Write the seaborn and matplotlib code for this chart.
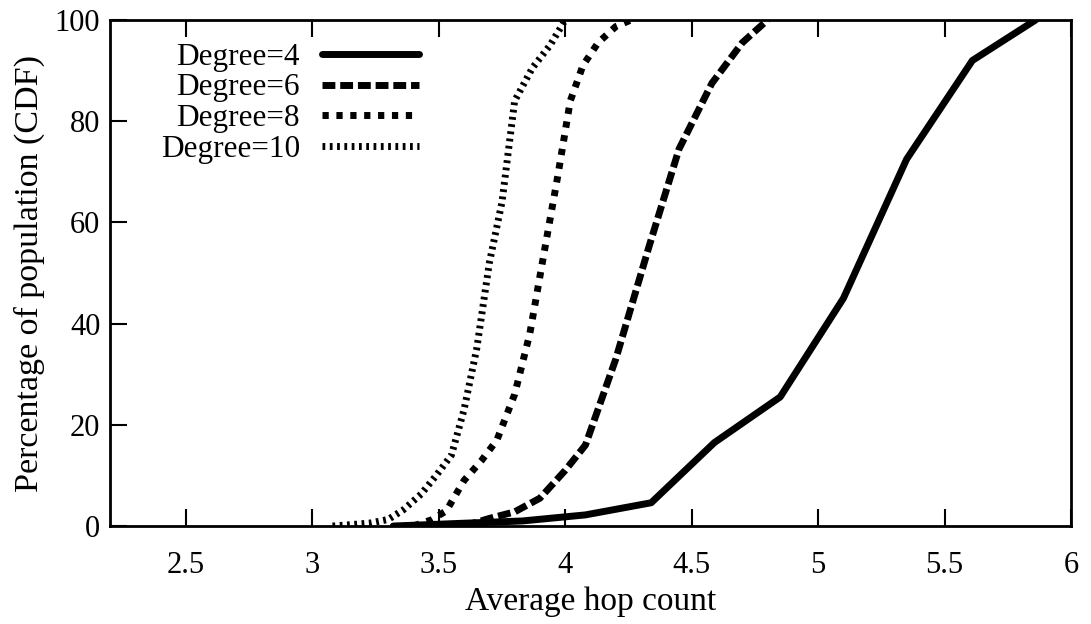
import matplotlib
matplotlib.use("Agg")
import matplotlib.pyplot as plt
import seaborn as sns

# CDF of average hop count, one curve per node degree
hop_deg4 = [3.32, 3.57, 3.83, 4.08, 4.34, 4.59, 4.85, 5.10, 5.35, 5.61, 5.86]
cdf_deg4 = [0, 0.5, 1.0, 2.2, 4.6, 16.5, 25.5, 45, 72.5, 92, 100]

hop_deg6 = [3.60, 3.70, 3.80, 3.90, 4.00, 4.08, 4.20, 4.33, 4.45, 4.58, 4.70, 4.80]
cdf_deg6 = [0, 1.5, 2.8, 5.5, 11, 16, 33, 55, 74.5, 87.5, 95.5, 100]

hop_deg8 = [3.40, 3.47, 3.53, 3.60, 3.67, 3.73, 3.80, 3.86, 3.92, 3.97, 4.02, 4.07, 4.13, 4.20, 4.26]
cdf_deg8 = [0, 1.2, 3, 9, 13, 17, 26, 38, 55, 69, 84, 91, 95.5, 98.7, 100]

hop_deg10 = [3.08, 3.16, 3.23, 3.30, 3.36, 3.43, 3.49, 3.55, 3.60, 3.65, 3.70, 3.75, 3.80, 3.87, 3.94, 4.00]
cdf_deg10 = [0, 0.3, 0.6, 1.3, 3.2, 6.3, 10, 14, 23, 35, 52, 64, 84, 90.5, 95, 100]

labels = ["Degree=4", "Degree=6", "Degree=8", "Degree=10"]
series = [(hop_deg4, cdf_deg4), (hop_deg6, cdf_deg6), (hop_deg8, cdf_deg8), (hop_deg10, cdf_deg10)]
dashes = ["-", (0, (1.85, 0.7)), (0, (0.9, 1.1)), (0, (0.4, 0.65))]

xticks = [2.5, 3, 3.5, 4, 4.5, 5, 5.5, 6]
yticks = [0, 20, 40, 60, 80, 100]

sns.set_style("ticks")
plt.rcParams["font.family"] = ["Liberation Serif", "DejaVu Serif"]
plt.rcParams["text.color"] = "black"
plt.rcParams["axes.labelcolor"] = "black"
plt.rcParams["xtick.color"] = "black"
plt.rcParams["ytick.color"] = "black"

fig = plt.figure(figsize=(10.91, 6.24), dpi=100)
ax = fig.add_axes([0.1008, 0.157, 0.8809, 0.811])

for (xs, ys), lab, ls in zip(series, labels, dashes):
    sns.lineplot(x=xs, y=ys, ax=ax, color="black", lw=5, linestyle=ls,
                 label=lab, sort=False, estimator=None)

ax.set_xlim(2.2, 6)
ax.set_ylim(0, 100)
ax.set_xticks(xticks)
ax.set_xticklabels([f"{t:g}" for t in xticks])
ax.set_yticks(yticks)

ax.set_xlabel("Average hop count", fontsize=24, labelpad=5)
ax.set_ylabel("Percentage of population (CDF)", fontsize=24.5, labelpad=7)

ax.tick_params(axis="both", direction="in", length=12, width=1.5, labelsize=22)
ax.tick_params(axis="x", top=True, pad=18)
ax.tick_params(axis="y", pad=7)
for sp in ax.spines.values():
    sp.set_linewidth(2)
    sp.set_color("black")

leg = ax.legend(loc="upper left", bbox_to_anchor=(0.04, 0.98), frameon=False,
                markerfirst=False, fontsize=22.5, handlelength=3.1,
                labelspacing=0.06, handletextpad=0.7, borderaxespad=0)

fig.savefig("out.png", dpi=100)
